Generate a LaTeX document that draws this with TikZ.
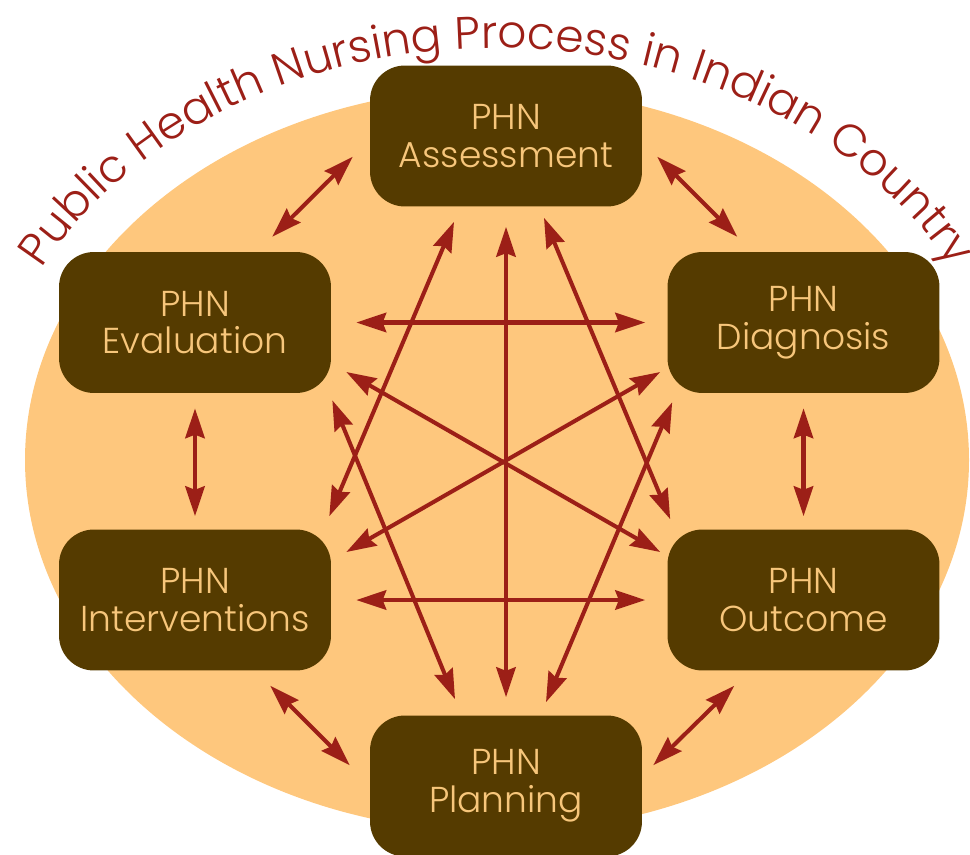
\documentclass[tikz,border=0pt]{standalone}
\usepackage{fontspec}
\usetikzlibrary{arrows.meta,decorations.text}
\newfontfamily\phnfont{Poppins Light}
\definecolor{phnbrown}{HTML}{553B00}
\definecolor{phntext}{HTML}{F7C67B}
\definecolor{phnoval}{HTML}{FEC77D}
\definecolor{phnred}{HTML}{9C1F17}

\begin{document}
\begin{tikzpicture}[x=0.02cm,y=-0.02cm,
    phnbox/.style={fill=phnbrown, rounded corners=0.7cm, minimum width=5.44cm, minimum height=2.82cm,
      text=phntext, align=center, font=\phnfont\fontsize{20.5}{21.5}\selectfont},
    link/.style={draw=phnred, line width=2.3pt, >={Stealth[length=17pt,width=11pt,inset=2pt]}, <->}]

		\useasboundingbox (0,0) rectangle (970,855);

		% background oval and title
		\fill[phnoval] (497,460) ellipse [x radius=472, y radius=372];
		\path[decorate, decoration={text along path, text align=center,
		    text={|\phnfont\fontsize{25.8}{28}\selectfont\color{phnred}|Public Health Nursing Process in Indian Country}}]
		  (497,460) ++(-155:514 and 412) arc[start angle=-155, end angle=-25, x radius=514, y radius=412];

		% steps
		\node[phnbox] (assess) at (506,136) {PHN\\Assessment};
		\node[phnbox] (eval) at (195,322.5) {PHN\\Evaluation};
		\node[phnbox] (diag) at (803.5,322.5) {PHN\\Diagnosis};
		\node[phnbox] (interv) at (195,600) {PHN\\Interventions};
		\node[phnbox] (outc) at (803.5,600) {PHN\\Outcome};
		\node[phnbox] (plan) at (506,786) {PHN\\Planning};

		% outer ring
		\draw[link] ([shift={(-17,-50)}]assess.south west) -- ([shift={(-59,-15)}]eval.north east);
		\draw[link] ([shift={(15,-50)}]assess.south east) -- ([shift={(70,-15)}]diag.north west);
		\draw[link, shorten <=0.3cm, shorten >=0.26cm] (eval.south) -- (interv.north);
		\draw[link, shorten <=0.3cm, shorten >=0.26cm] (diag.south) -- (outc.north);
		\draw[link] ([shift={(-61,15)}]interv.south east) -- ([shift={(-20,50)}]plan.north west);
		\draw[link] ([shift={(67,15)}]outc.south west) -- ([shift={(11,50)}]plan.north east);

		% inner links
		\draw[link, shorten <=0.5cm, shorten >=0.44cm] (eval.east) -- (diag.west);
		\draw[link, shorten <=0.5cm, shorten >=0.44cm] (interv.east) -- (outc.west);
		\draw[link, shorten <=0.4cm, shorten >=0.36cm] (assess.south) -- (plan.north);
		\draw[link] ([shift={(15,49.5)}]eval.east) -- ([shift={(-7,-48)}]outc.west);
		\draw[link] ([shift={(15,-48)}]interv.east) -- ([shift={(-7,49.5)}]diag.west);
		\draw[link] ([shift={(-52,15)}]assess.south) -- ([shift={(-2,-13)}]interv.north east);
		\draw[link] ([shift={(38,11)}]assess.south) -- ([shift={(3,-10)}]outc.north west);
		\draw[link] ([shift={(1,7)}]eval.south east) -- ([shift={(-51,-16)}]plan.north);
		\draw[link] ([shift={(5,9)}]diag.south west) -- ([shift={(40,-13)}]plan.north);

\end{tikzpicture}
\end{document}
